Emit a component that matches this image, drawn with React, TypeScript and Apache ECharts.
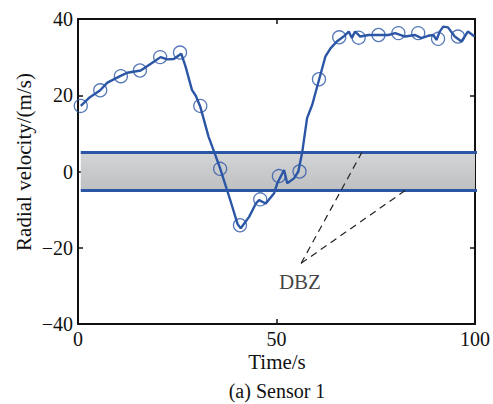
import React, { useEffect, useRef } from "react";
import * as echarts from "echarts";

const lineTime = [0.7, 3, 5.6, 7.4, 10.6, 12.4, 15.8, 19.1, 20.8, 22.5, 24.1, 26.0, 27.1, 28.7, 29.7, 30.8, 32.9, 34.6, 35.8, 38.5, 40.2, 41.0, 43.1, 44.8, 45.6, 47.3, 49.4, 50.2, 51.9, 52.7, 54.4, 55.5, 56.5, 57.7, 59.0, 60.7, 62.3, 63.6, 65.2, 66.9, 68.2, 69.0, 69.8, 71.1, 73.2, 75.7, 78.2, 79.9, 82.4, 84.9, 86.5, 88.2, 89.5, 90.3, 91.1, 92.0, 93.2, 94.9, 96.6, 98.2, 99.9];
const lineVelocity = [17.2, 19.5, 21.3, 23.3, 25.0, 25.9, 26.5, 28.8, 30.0, 29.4, 29.5, 30.9, 27.5, 21.4, 19.8, 17.0, 9.1, 4.3, 0.8, -8.0, -13.8, -14.9, -11.9, -8.4, -7.5, -8.4, -5.7, -3.1, 0.4, -3.1, -1.8, 0.0, 5.2, 14.0, 17.5, 24.0, 30.1, 32.3, 34.1, 35.4, 36.7, 35.0, 36.7, 35.4, 35.8, 35.8, 35.8, 36.3, 35.4, 35.8, 35.0, 35.6, 35.8, 34.5, 36.7, 38.0, 37.8, 35.4, 34.1, 36.7, 35.4];

const markerTime = [0.7, 5.6, 10.8, 15.6, 20.7, 25.7, 30.8, 35.8, 40.8, 45.9, 50.6, 55.8, 60.7, 65.8, 70.7, 75.7, 80.7, 85.7, 90.7, 95.7];
const markerVelocity = [17.2, 21.3, 25.0, 26.5, 30.0, 31.2, 17.2, 0.7, -14.1, -7.3, -1.2, 0.0, 24.2, 35.2, 35.1, 35.8, 36.3, 36.3, 34.8, 35.4];

const dbzUpper = 5;
const dbzLower = -5;
const dbzStart = 0.7;
const dbzEnd = 100.7;

const labelPoint = [56.2, -24.1];
const arrowEnds = [[71.5, 5.0], [82.8, -4.7]];
const labelTextPos = [55.9, -29.0];

const xTicks = [0, 50, 100];
const yTicks = [-40, -20, 0, 20, 40];

const BLUE = "#2b56a6";
const FONT = "'Liberation Serif', 'Times New Roman', serif";

export default function App() {
  const ref = useRef<HTMLDivElement>(null);
  useEffect(() => {
    if (!ref.current) return;
    const chart = echarts.init(ref.current, undefined, { renderer: "svg" });
    const lineData = lineTime.map((t, i) => [t, lineVelocity[i]]);
    const markerData = markerTime.map((t, i) => [t, markerVelocity[i]]);
    const fmt = (v: number) => String(v).replace("-", "\u2212");
    const axisCommon = {
      type: "value" as const,
      axisLine: { show: true, onZero: false, lineStyle: { color: "#111", width: 2 } },
      axisTick: { show: true, inside: true, length: 5, lineStyle: { color: "#111", width: 1.5 } },
      splitLine: { show: false },
    };
    chart.setOption({
      animation: false,
      backgroundColor: "#fff",
      textStyle: { fontFamily: FONT },
      grid: { left: 78, right: 16, top: 19, bottom: 80, containLabel: false },
      xAxis: [
        {
          ...axisCommon,
          min: xTicks[0],
          max: xTicks[xTicks.length - 1],
          interval: 50,
          position: "bottom",
          axisLabel: { color: "#111", fontSize: 20, fontFamily: FONT, margin: 5, formatter: fmt },
        },
        {
          ...axisCommon,
          min: xTicks[0],
          max: xTicks[xTicks.length - 1],
          interval: 50,
          position: "top",
          axisLabel: { show: false },
        },
      ],
      yAxis: [
        {
          ...axisCommon,
          min: yTicks[0],
          max: yTicks[yTicks.length - 1],
          interval: 20,
          position: "left",
          axisLabel: { color: "#111", fontSize: 20, fontFamily: FONT, margin: 5, formatter: fmt },
        },
        {
          ...axisCommon,
          min: yTicks[0],
          max: yTicks[yTicks.length - 1],
          interval: 20,
          position: "right",
          axisLabel: { show: false },
        },
      ],
      series: [
        {
          type: "line",
          data: [[dbzStart, dbzUpper], [dbzEnd, dbzUpper]],
          symbol: "none",
          clip: false,
          silent: true,
          lineStyle: { color: BLUE, width: 3 },
          markArea: {
            silent: true,
            itemStyle: {
              color: new echarts.graphic.LinearGradient(0, 0, 0, 1, [
                { offset: 0, color: "#d4d5d7" },
                { offset: 1, color: "#bebfc1" },
              ]),
            },
            data: [[{ coord: [dbzStart, dbzUpper] }, { coord: [dbzEnd, dbzLower] }]],
          },
          z: 1,
        },
        {
          type: "line",
          data: [[dbzStart, dbzLower], [dbzEnd, dbzLower]],
          symbol: "none",
          clip: false,
          silent: true,
          lineStyle: { color: BLUE, width: 3 },
          z: 1,
        },
        ...arrowEnds.map((end) => ({
          type: "line",
          data: [labelPoint, end],
          symbol: "none",
          silent: true,
          lineStyle: { color: "#222", width: 1.2, type: [7, 5] },
          z: 2,
        })),
        {
          type: "scatter",
          data: [labelTextPos],
          symbolSize: 0,
          silent: true,
          label: {
            show: true,
            position: "inside",
            formatter: "DBZ",
            color: "#111",
            fontSize: 21,
            fontFamily: FONT,
          },
          z: 3,
        },
        {
          type: "line",
          data: lineData,
          symbol: "none",
          lineStyle: { color: BLUE, width: 2.4 },
          z: 4,
        },
        {
          type: "scatter",
          data: markerData,
          symbol: "circle",
          symbolSize: 13,
          itemStyle: { color: "rgba(0,0,0,0)", borderColor: BLUE, borderWidth: 1.3 },
          z: 5,
        },
      ],
      graphic: [
        {
          type: "text",
          x: 24,
          y: 162,
          rotation: Math.PI / 2,
          style: {
            text: "Radial velocity/(m/s)",
            fontSize: 21,
            fontFamily: FONT,
            fill: "#111",
            align: "center",
            verticalAlign: "middle",
          },
        },
        {
          type: "text",
          x: 277,
          y: 362,
          style: {
            text: "Time/s",
            fontSize: 21,
            fontFamily: FONT,
            fill: "#111",
            align: "center",
            verticalAlign: "middle",
          },
        },
        {
          type: "text",
          x: 277,
          y: 391,
          style: {
            text: "(a) Sensor 1",
            fontSize: 20,
            fontFamily: FONT,
            fill: "#111",
            align: "center",
            verticalAlign: "middle",
          },
        },
      ],
    });
    return () => chart.dispose();
  }, []);
  return <div ref={ref} style={{ width: 493, height: 404, position: "fixed", left: 0, top: 0 }} />;
}
